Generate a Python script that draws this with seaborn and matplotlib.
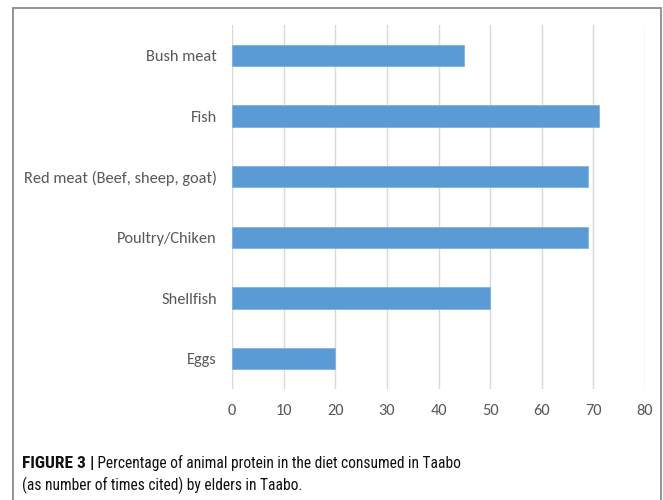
import matplotlib
matplotlib.use("Agg")
import matplotlib.pyplot as plt
import seaborn as sns
import pandas as pd
from matplotlib.lines import Line2D

categories = ["Bush meat", "Fish", "Red meat (Beef, sheep, goat)", "Poultry/Chiken", "Shellfish", "Eggs"]
values = [45, 71, 69, 69, 50, 20]
x_ticks = [0, 10, 20, 30, 40, 50, 60, 70, 80]
caption_bold = "FIGURE 3"
caption_bar = "|"
caption_rest_1 = " Percentage of animal protein in the diet consumed in Taabo"
caption_line_2 = "(as number of times cited) by elders in Taabo."

df = pd.DataFrame({"category": categories, "value": values})

sns.set_style("white")
plt.rcParams['font.family'] = ['Carlito', 'DejaVu Sans']

fig = plt.figure(figsize=(6.63, 5.0), dpi=100)
ax = fig.add_axes([232/663, 1-389/500, (645-232)/663, (389-25)/500])

sns.barplot(data=df, x="value", y="category", orient="h", color="#5B9BD5",
            saturation=1, width=0.35, edgecolor="#7FB2E0", linewidth=0.6, ax=ax, zorder=3)

ax.set_xlim(0, 80)
ax.set_xticks(x_ticks)
ax.set_xlabel("")
ax.set_ylabel("")
ax.grid(axis="x", color="#d9d9d9", linewidth=1.0, zorder=0)
ax.grid(axis="y", visible=False)
for s in ax.spines.values():
    s.set_visible(False)
ax.tick_params(axis="both", length=0, colors="#595959", labelsize=11.8)
ax.tick_params(axis="x", pad=10.5)
ax.tick_params(axis="y", pad=11)

# frame lines
lc = "#8c8c8c"
fx0, fx1, fy1 = 12.5/663, 660.5/663, 1-8/500
fig.add_artist(Line2D([fx0, fx0], [0, fy1], transform=fig.transFigure, color=lc, linewidth=1.3))
fig.add_artist(Line2D([fx0, fx1], [fy1, fy1], transform=fig.transFigure, color=lc, linewidth=1.3))
fig.add_artist(Line2D([fx1, fx1], [0, fy1], transform=fig.transFigure, color=lc, linewidth=1.3))

cap_font = ['Roboto Condensed', 'Archivo Narrow', 'DejaVu Sans']
W = fig.bbox.width
tb = fig.text(22/663, 1-468/500, caption_bold, fontsize=12.5, fontweight="bold",
              family=cap_font, color="#111111", va="baseline", ha="left")
fig.canvas.draw()
r = fig.canvas.get_renderer()
bb = tb.get_window_extent(renderer=r)
tbar = fig.text((bb.x1 + 4)/W, 1-468/500, caption_bar, fontsize=12.5, fontweight="bold",
                family=cap_font, color="#111111", va="baseline", ha="left")
bb2 = tbar.get_window_extent(renderer=r)
fig.text(bb2.x1/W, 1-468/500, caption_rest_1, fontsize=11.2,
         family=cap_font, color="#111111", va="baseline", ha="left")
fig.text(22/663, 1-490/500, caption_line_2, fontsize=11.2,
         family=cap_font, color="#111111", va="baseline", ha="left")

fig.savefig("out.png", dpi=100)
